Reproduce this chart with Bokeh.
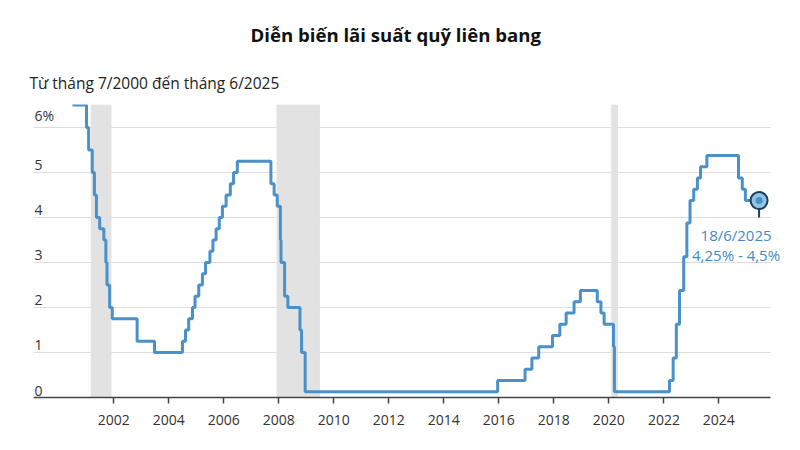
import pandas as pd
from bokeh.plotting import figure
from bokeh.models import Range1d, FixedTicker, DatetimeTickFormatter, BoxAnnotation, Title, ColumnDataSource, Label
from bokeh.core.properties import value
from bokeh.embed import file_html
from bokeh.resources import INLINE

# Federal funds target (midpoint of range after Dec 2008), % — change dates
rate_dates = [
    "2000-07-01", "2001-01-03", "2001-01-31", "2001-03-20", "2001-04-18", "2001-05-15",
    "2001-06-27", "2001-08-21", "2001-09-17", "2001-10-02", "2001-11-06", "2001-12-11",
    "2002-11-06", "2003-06-25", "2004-06-30", "2004-08-10", "2004-09-21", "2004-11-10",
    "2004-12-14", "2005-02-02", "2005-03-22", "2005-05-03", "2005-06-30", "2005-08-09",
    "2005-09-20", "2005-11-01", "2005-12-13", "2006-01-31", "2006-03-28", "2006-05-10",
    "2006-06-29", "2007-09-18", "2007-10-31", "2007-12-11", "2008-01-22", "2008-01-30",
    "2008-03-18", "2008-04-30", "2008-10-08", "2008-10-29", "2008-12-16", "2015-12-16",
    "2016-12-14", "2017-03-15", "2017-06-14", "2017-12-13", "2018-03-21", "2018-06-13",
    "2018-09-26", "2018-12-19", "2019-07-31", "2019-09-18", "2019-10-30", "2020-03-03",
    "2020-03-15", "2022-03-16", "2022-05-04", "2022-06-15", "2022-07-27", "2022-09-21",
    "2022-11-02", "2022-12-14", "2023-02-01", "2023-03-22", "2023-05-03", "2023-07-26",
    "2024-09-18", "2024-11-07", "2024-12-18", "2025-06-18",
]
rate_values = [
    6.5, 6.0, 5.5, 5.0, 4.5, 4.0,
    3.75, 3.5, 3.0, 2.5, 2.0, 1.75,
    1.25, 1.0, 1.25, 1.5, 1.75, 2.0,
    2.25, 2.5, 2.75, 3.0, 3.25, 3.5,
    3.75, 4.0, 4.25, 4.5, 4.75, 5.0,
    5.25, 4.75, 4.5, 4.25, 3.5, 3.0,
    2.25, 2.0, 1.5, 1.0, 0.125, 0.375,
    0.625, 0.875, 1.125, 1.375, 1.625, 1.875,
    2.125, 2.375, 2.125, 1.875, 1.625, 1.125,
    0.125, 0.375, 0.875, 1.625, 2.375, 3.125,
    3.875, 4.375, 4.625, 4.875, 5.125, 5.375,
    4.875, 4.625, 4.375, 4.375,
]

recession_starts = ["2001-03-01", "2007-12-01", "2020-02-01"]
recession_ends = ["2001-11-30", "2009-06-30", "2020-04-30"]

year_ticks = [2002, 2004, 2006, 2008, 2010, 2012, 2014, 2016, 2018, 2020, 2022, 2024]
y_grid_values = [1, 2, 3, 4, 5, 6]
y_label_values = [6, 5, 4, 3, 2, 1, 0]
y_label_texts = ["6%", "5", "4", "3", "2", "1", "0"]

title_text = "Diễn biến lãi suất quỹ liên bang"
subtitle_text = "Từ tháng 7/2000 đến tháng 6/2025"
annot_date = "18/6/2025"
annot_range = "4,25% - 4,5%"

FONT = "Open Sans"
LINE_COLOR = "#4a90c9"
TEXT_COLOR = "#333333"
ANNOT_COLOR = "#3f8cc2"

x_dates = pd.to_datetime(rate_dates)
x_start = pd.Timestamp("1999-01-30")
axis_end = pd.Timestamp("2025-11-18")
x_end = pd.Timestamp("2026-09-05")

p = figure(
    width=800, height=450, output_backend="svg", toolbar_location=None,
    x_axis_type="datetime",
    x_range=Range1d(x_start, x_end), y_range=Range1d(0, 6.51),
    min_border_left=33, min_border_right=8, min_border_top=104, min_border_bottom=53,
)
p.outline_line_color = None
p.background_fill_color = "white"

# Titles
sub = Title(text=subtitle_text, align="left", text_font=FONT, text_font_size="15.5px",
            text_font_style="normal", text_color="#222222", offset=-4, standoff=21)
p.add_layout(sub, "above")
main = Title(text=title_text, align="left", text_font=FONT, text_font_size="18.6px",
             text_font_style="bold", text_color="#111111", standoff=25, offset=217)
p.add_layout(main, "above")

# Recession shading
for s, e in zip(recession_starts, recession_ends):
    p.add_layout(BoxAnnotation(left=pd.Timestamp(s), right=pd.Timestamp(e), bottom=0,
                               fill_color="#e2e2e2", fill_alpha=1.0, line_color=None,
                               level="underlay"))

# Grid lines (drawn as segments so they stop at the axis end)
p.xgrid.visible = False
p.ygrid.visible = False
p.segment(x0=[x_start] * len(y_grid_values), y0=y_grid_values,
          x1=[axis_end] * len(y_grid_values), y1=y_grid_values,
          line_color="#dddddd", line_width=1, level="underlay")

# Axes
p.yaxis.visible = False
xa = p.xaxis[0]
xa.bounds = (x_start, axis_end)
xa.ticker = FixedTicker(ticks=[pd.Timestamp(f"{y}-01-01").value / 1e6 for y in year_ticks])
xa.formatter = DatetimeTickFormatter(years="%Y", months="%Y", days="%Y")
xa.axis_line_color = "#444444"
xa.axis_line_width = 1.5
xa.major_tick_line_color = "#444444"
xa.major_tick_line_width = 1.5
xa.major_tick_out = 6
xa.major_tick_in = 0
xa.minor_tick_out = 0
xa.minor_tick_in = 0
xa.major_label_text_font = FONT
xa.major_label_text_font_size = "14px"
xa.major_label_text_color = TEXT_COLOR
xa.major_label_standoff = 11

# Y labels above gridlines
ysrc = ColumnDataSource(dict(x=[x_start] * len(y_label_values), y=y_label_values, t=y_label_texts))
p.text(x="x", y="y", text="t", source=ysrc, x_offset=1, y_offset=-2,
       text_font=value(FONT), text_font_size="14px", text_color=TEXT_COLOR,
       text_baseline="bottom", text_align="left")

# Step line
p.step(x=x_dates, y=rate_values, mode="after", line_color=LINE_COLOR, line_width=3)

# End marker
end_x = x_dates[-1]
end_y = rate_values[-1]
p.segment(x0=[end_x], y0=[end_y], x1=[end_x], y1=[4.0], line_color="#1d3c5e", line_width=2)
p.scatter(x=[end_x], y=[end_y], size=17, fill_color="#8fc3e8", line_color="#1d3c5e", line_width=2)
p.scatter(x=[end_x], y=[end_y], size=7, fill_color=LINE_COLOR, line_color=None)

for txt, dy in [(annot_date, -34), (annot_range, -54)]:
    p.add_layout(Label(x=end_x, y=end_y, text=txt, x_offset=-23, y_offset=dy,
                       text_font=FONT, text_font_size="15px", text_color=ANNOT_COLOR,
                       text_baseline="middle", text_align="center"))

open("out.html", "w").write(file_html(p, INLINE))
